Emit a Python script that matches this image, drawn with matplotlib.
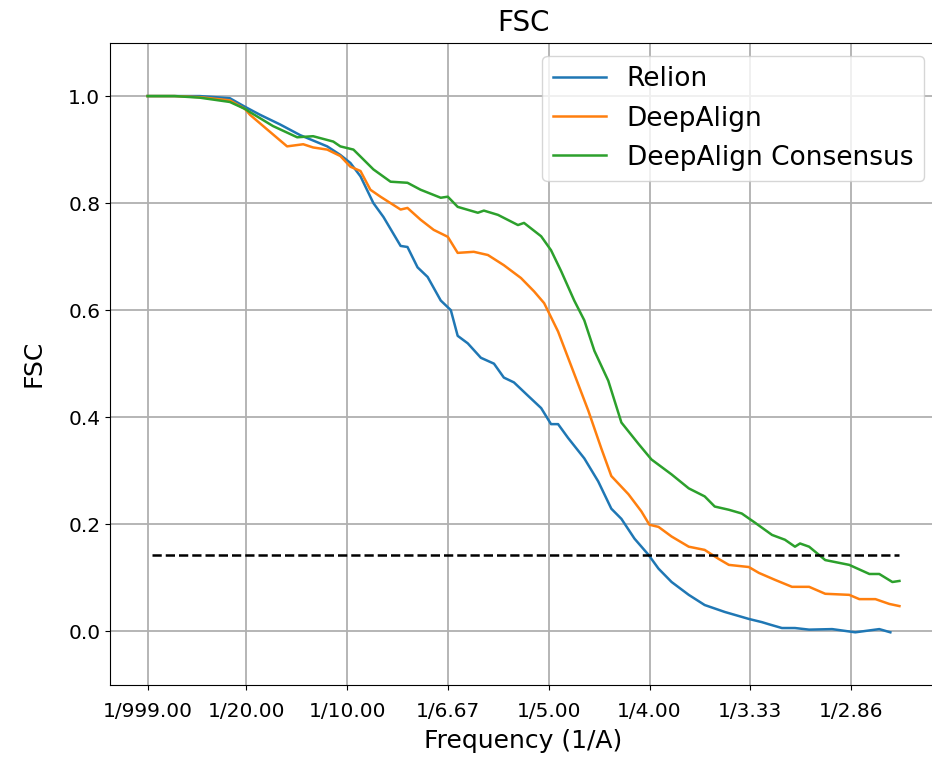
import matplotlib
matplotlib.use("Agg")
import matplotlib.pyplot as plt

# frequency (1/A) and FSC values
relion_freq = [0.001, 0.0144, 0.0269, 0.0418, 0.0493, 0.0568, 0.0667, 0.0767, 0.0901, 0.0966,
               0.1016, 0.1066, 0.1130, 0.1180, 0.1265, 0.1299, 0.1349, 0.1399, 0.1464, 0.1514,
               0.1548, 0.1598, 0.1663, 0.1728, 0.1777, 0.1827, 0.1897, 0.1962, 0.2011, 0.2046,
               0.2096, 0.2176, 0.2245, 0.2310, 0.2360, 0.2425, 0.2494, 0.2544, 0.2609, 0.2694,
               0.2773, 0.2873, 0.2992, 0.3057, 0.3092, 0.3156, 0.3221, 0.3291, 0.3405, 0.3520,
               0.3639, 0.3694]
relion_fsc = [1.0, 1.0, 1.0, 0.996, 0.98, 0.965, 0.947, 0.927, 0.906, 0.89,
              0.875, 0.85, 0.80, 0.774, 0.72, 0.718, 0.68, 0.662, 0.618, 0.60,
              0.552, 0.538, 0.511, 0.50, 0.474, 0.465, 0.44, 0.417, 0.387, 0.387,
              0.361, 0.323, 0.28, 0.229, 0.21, 0.173, 0.143, 0.117, 0.092, 0.068,
              0.049, 0.036, 0.023, 0.017, 0.013, 0.006, 0.006, 0.003, 0.004, -0.002,
              0.004, -0.002]

deepalign_freq = [0.001, 0.0144, 0.0269, 0.0418, 0.0493, 0.0518, 0.0602, 0.0702, 0.0782, 0.0831,
                  0.0901, 0.0966, 0.1016, 0.1066, 0.1115, 0.1165, 0.1265, 0.1299, 0.1364, 0.1429,
                  0.1499, 0.1548, 0.1628, 0.1698, 0.1777, 0.1862, 0.1927, 0.1977, 0.2046, 0.2126,
                  0.2196, 0.2260, 0.2310, 0.2395, 0.2459, 0.2499, 0.2544, 0.2609, 0.2694, 0.2773,
                  0.2843, 0.2893, 0.2992, 0.3042, 0.3122, 0.3206, 0.3291, 0.3371, 0.3490, 0.3540,
                  0.3620, 0.3689, 0.3739]
deepalign_fsc = [1.0, 1.0, 0.998, 0.992, 0.976, 0.965, 0.938, 0.906, 0.91, 0.904,
                 0.90, 0.888, 0.868, 0.86, 0.825, 0.812, 0.788, 0.791, 0.769, 0.75,
                 0.737, 0.707, 0.709, 0.703, 0.684, 0.66, 0.635, 0.613, 0.56, 0.481,
                 0.412, 0.342, 0.29, 0.256, 0.224, 0.199, 0.195, 0.177, 0.158, 0.152,
                 0.135, 0.124, 0.12, 0.109, 0.096, 0.083, 0.083, 0.07, 0.068, 0.06,
                 0.06, 0.051, 0.047]

consensus_freq = [0.001, 0.0144, 0.0269, 0.0418, 0.0493, 0.0518, 0.0632, 0.0752, 0.0831, 0.0931,
                  0.0966, 0.1031, 0.1066, 0.1130, 0.1215, 0.1299, 0.1364, 0.1464, 0.1499, 0.1548,
                  0.1648, 0.1678, 0.1748, 0.1847, 0.1877, 0.1962, 0.2011, 0.2061, 0.2126, 0.2176,
                  0.2226, 0.2295, 0.2360, 0.2445, 0.2509, 0.2609, 0.2694, 0.2773, 0.2823, 0.2893,
                  0.2957, 0.3022, 0.3107, 0.3171, 0.3221, 0.3246, 0.3291, 0.3371, 0.3490, 0.3590,
                  0.3639, 0.3704, 0.3739]
consensus_fsc = [1.0, 1.0, 0.997, 0.989, 0.976, 0.97, 0.944, 0.923, 0.925, 0.915,
                 0.906, 0.90, 0.887, 0.863, 0.84, 0.838, 0.825, 0.81, 0.812, 0.793,
                 0.782, 0.786, 0.778, 0.759, 0.763, 0.738, 0.712, 0.673, 0.618, 0.581,
                 0.524, 0.468, 0.39, 0.35, 0.321, 0.293, 0.267, 0.252, 0.233, 0.227,
                 0.22, 0.203, 0.18, 0.171, 0.158, 0.164, 0.158, 0.133, 0.124, 0.107,
                 0.107, 0.092, 0.094]

threshold = 0.143
tick_freq = [0.001, 0.05, 0.10, 0.15, 0.20, 0.25, 0.30, 0.35]
tick_labels = ['1/999.00', '1/20.00', '1/10.00', '1/6.67', '1/5.00', '1/4.00', '1/3.33', '1/2.86']

fig = plt.figure(figsize=(9.32, 7.6), dpi=100)
# right spine falls just outside the picture, as in the reference crop
ax = fig.add_axes([0.118, 0.099, 0.8874, 0.845])

ax.plot(relion_freq, relion_fsc, color='#1f77b4', lw=1.8, label='Relion')
ax.plot(deepalign_freq, deepalign_fsc, color='#ff7f0e', lw=1.8, label='DeepAlign')
ax.plot(consensus_freq, consensus_fsc, color='#2ca02c', lw=1.8, label='DeepAlign Consensus')
ax.hlines(threshold, 0.003, consensus_freq[-1], colors='black', linestyles='--', lw=1.8)

ax.set_xticks(tick_freq)
ax.set_xticklabels(tick_labels)
ax.set_yticks([0.0, 0.2, 0.4, 0.6, 0.8, 1.0])
ax.set_ylim(-0.1, 1.1)
ax.tick_params(labelsize=14.5)
ax.tick_params(axis='x', pad=9)
ax.grid(True, color='#b0b0b0', lw=1.3)

ax.set_title('FSC', fontsize=20, pad=8)
ax.set_xlabel('Frequency (1/A)', fontsize=18, labelpad=6)
ax.set_ylabel('FSC', fontsize=18, labelpad=16)
ax.legend(loc='upper right', fontsize=19)

fig.savefig('out.png', dpi=100)
